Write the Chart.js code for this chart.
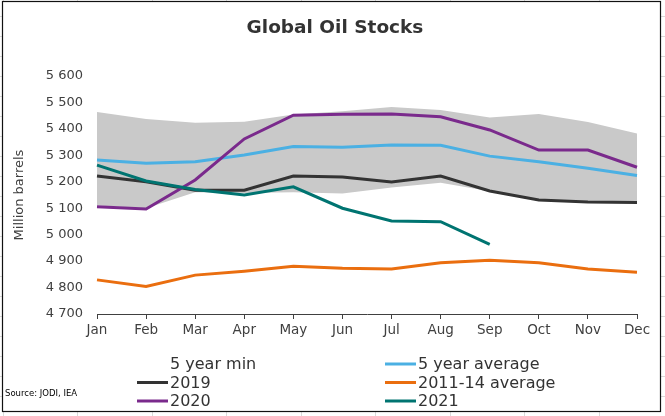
<!DOCTYPE html>
<html><head><meta charset="utf-8">
<script src="https://cdn.jsdelivr.net/npm/chart.js@4"></script>
<style>html,body{margin:0;padding:0;background:#fff;}#c{display:block;}</style>
</head><body>
<canvas id="c" width="665" height="416" style="width:665px;height:416px"></canvas>
<script>
const months = ['Jan','Feb','Mar','Apr','May','Jun','Jul','Aug','Sep','Oct','Nov','Dec'];
const min5 = [5110, 5100, 5160, 5158, 5160, 5156, 5178, 5196, 5164, 5130, 5123, 5121];
const max5 = [5464, 5437, 5423, 5427, 5454, 5467, 5483, 5471, 5443, 5456, 5426, 5383];
const avg5 = [5282, 5270, 5276, 5301, 5333, 5331, 5339, 5338, 5297, 5276, 5251, 5224];
const y2019 = [5222, 5200, 5168, 5168, 5222, 5218, 5199, 5222, 5165, 5131, 5124, 5122];
const avg1114 = [4829, 4804, 4847, 4862, 4881, 4873, 4870, 4894, 4903, 4894, 4870, 4858];
const y2020 = [5106, 5097, 5207, 5362, 5452, 5455, 5456, 5446, 5396, 5320, 5320, 5255];
const y2021 = [5263, 5203, 5171, 5150, 5181, 5100, 5052, 5049, 4963, null, null, null];
const yMin = 4700, yMax = 5600, yStep = 100;
const titleText = 'Global Oil Stocks';
const yTitle = 'Million barrels';
const sourceText = 'Source: JODI, IEA';

const FONT = '"DejaVu Sans", sans-serif';
Chart.defaults.font.family = FONT;

function line(label, data, color, order, legendIdx) {
  return {label, data, borderColor: color, backgroundColor: color, borderWidth: 3,
    pointRadius: 0, pointHoverRadius: 0, tension: 0, fill: false, order, legendIdx};
}

const datasets = [
  {label: '5 year min', data: min5, borderColor: 'rgba(0,0,0,0)', backgroundColor: 'rgba(0,0,0,0)',
   borderWidth: 0, pointRadius: 0, fill: false, order: 20, legendIdx: 0, noSample: true},
  {label: '5 year max', data: max5, borderColor: 'rgba(0,0,0,0)', backgroundColor: '#c9c9c9',
   borderWidth: 0, pointRadius: 0, fill: '-1', order: 19},
  line('5 year average', avg5, '#4bb0e3', 6, 1),
  line('2019', y2019, '#333333', 5, 2),
  line('2011-14 average', avg1114, '#ea6e0f', 4, 3),
  line('2020', y2020, '#7a2a8c', 3, 4),
  line('2021', y2021, '#007471', 2, 5)
];

const bgPlugin = {
  id: 'bg',
  beforeDraw(chart) {
    const ctx = chart.ctx, W = chart.width, H = chart.height;
    ctx.save();
    ctx.fillStyle = '#fff';
    ctx.fillRect(0, 0, W, H);
    ctx.strokeStyle = '#dadada';
    ctx.lineWidth = 1;
    ctx.beginPath();
    for (let y = 16.5; y < H; y += 20) { ctx.moveTo(0, y); ctx.lineTo(W, y); }
    for (let x = 2.5; x < W; x += 74.5) { ctx.moveTo(Math.round(x) + 0.5, 0); ctx.lineTo(Math.round(x) + 0.5, H); }
    ctx.stroke();
    ctx.fillStyle = '#fff';
    ctx.fillRect(3, 2, 657, 409);
    ctx.strokeStyle = '#111';
    ctx.lineWidth = 1.2;
    ctx.strokeRect(2.5, 1.5, 658, 410);
    ctx.restore();
  },
  afterDraw(chart) {
    const ctx = chart.ctx;
    ctx.save();
    // title
    ctx.fillStyle = '#333';
    ctx.font = 'bold 18.5px ' + FONT;
    ctx.textAlign = 'center';
    ctx.textBaseline = 'middle';
    ctx.fillText(titleText, 335, 28);
    // legend
    const rows = [364, 382.5, 401];
    const cols = [{lx: 137, rx: 168, tx: 170}, {lx: 385, rx: 416, tx: 418}];
    ctx.font = '16px ' + FONT;
    ctx.textAlign = 'left';
    chart.data.datasets.forEach(ds => {
      if (ds.legendIdx === undefined) return;
      const c = cols[ds.legendIdx % 2], y = rows[Math.floor(ds.legendIdx / 2)];
      if (!ds.noSample) {
        ctx.strokeStyle = ds.borderColor;
        ctx.lineWidth = 3;
        ctx.beginPath(); ctx.moveTo(c.lx, y); ctx.lineTo(c.rx, y); ctx.stroke();
      }
      ctx.fillStyle = '#333';
      ctx.fillText(ds.label, c.tx, y + 1);
    });
    // source
    ctx.font = '8.5px ' + FONT;
    ctx.fillStyle = '#000';
    ctx.fillText(sourceText, 5, 394);
    ctx.restore();
  }
};

new Chart(document.getElementById('c'), {
  type: 'line',
  data: {labels: months, datasets},
  options: {
    responsive: false,
    animation: false,
    events: [],
    layout: {padding: {left: 0, right: 28, top: 76, bottom: 72}},
    plugins: {legend: {display: false}, title: {display: false}, tooltip: {enabled: false},
      filler: {propagate: false}},
    scales: {
      x: {
        offset: false,
        grid: {display: true, drawOnChartArea: false, drawTicks: true, tickLength: 5, color: '#404040', lineWidth: 1},
        border: {display: true, color: '#404040', width: 1},
        ticks: {color: '#404040', font: {size: 13.5}, padding: 3, autoSkip: false, maxRotation: 0},
        afterFit(s) { s.height = 30; }
      },
      y: {
        min: yMin, max: yMax,
        grid: {display: false, drawTicks: false},
        border: {display: false},
        ticks: {stepSize: yStep, color: '#404040', font: {size: 13}, padding: 14,
          callback: v => String(v).replace(/\B(?=(\d{3})+(?!\d))/g, ' ')},
        title: {display: true, text: yTitle, color: '#404040', font: {size: 13}, padding: {top: 12, bottom: 0}},
        afterFit(s) { s.width = 97; }
      }
    }
  },
  plugins: [bgPlugin]
});
</script>
</body></html>
